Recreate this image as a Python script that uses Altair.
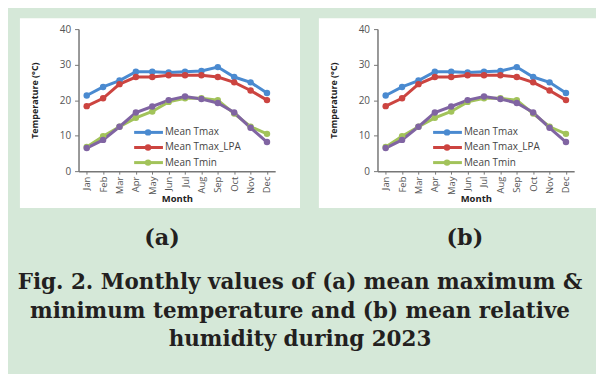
import altair as alt
import pandas as pd

months = ["Jan", "Feb", "Mar", "Apr", "May", "Jun", "Jul", "Aug", "Sep", "Oct", "Nov", "Dec"]
mean_tmax = [21.3, 23.7, 25.5, 28.0, 28.0, 27.8, 28.0, 28.2, 29.3, 26.5, 25.0, 22.0]
mean_tmax_lpa = [18.3, 20.5, 24.5, 26.5, 26.5, 27.0, 27.0, 27.0, 26.5, 25.0, 22.7, 20.0]
mean_tmin = [6.8, 9.8, 12.5, 15.0, 16.8, 19.5, 20.5, 20.5, 20.0, 16.2, 12.5, 10.5]
mean_tmin_lpa = [6.5, 8.8, 12.5, 16.5, 18.2, 20.0, 21.0, 20.3, 19.2, 16.5, 12.2, 8.2]

series_names = ["Mean Tmax", "Mean Tmax_LPA", "Mean Tmin", "Mean Tmin_LPA"]
series_colors = ["#4a8ad0", "#cc4440", "#a2c35a", "#8064a2"]
legend_names = ["Mean Tmax", "Mean Tmax_LPA", "Mean Tmin"]
y_ticks = [0, 10, 20, 30, 40]
panel_labels = ["(a)", "(b)"]
caption = ("Fig. 2. Monthly values of (a) mean maximum &\n"
           "minimum temperature and (b) mean relative\n"
           "humidity during 2023")

BG = "#d5e8d8"
W, H = 198, 143

rows = []
for name, vals in zip(series_names, [mean_tmax, mean_tmax_lpa, mean_tmin, mean_tmin_lpa]):
    for m, v in zip(months, vals):
        rows.append({"month": m, "series": name, "temp": v})
df = pd.DataFrame(rows)
one = pd.DataFrame({"k": [0]})

color_scale = alt.Scale(domain=series_names, range=series_colors)
x_enc = alt.X("month:N", sort=months, scale=alt.Scale(type="point", padding=0.5),
              axis=alt.Axis(title="Month", labelAngle=-90, labelFont="Open Sans", labelFontSize=9.5,
                            labelColor="#555555", titleFont="Open Sans", titleFontSize=9.5,
                            titleFontWeight="bold", titleColor="#222222", titleY=28,
                            titleBaseline="middle", domainColor="#777777", tickColor="#777777",
                            tickSize=3, labelPadding=2, domainWidth=1.5, zindex=1))
y_enc = alt.Y("temp:Q", scale=alt.Scale(domain=[0, 40], nice=False),
              axis=alt.Axis(title="Temperature (°C)", values=y_ticks, grid=False,
                            labelFont="Open Sans", labelFontSize=10, labelColor="#555555",
                            titleFont="Open Sans", titleFontSize=9, titleFontWeight="bold",
                            titleColor="#222222", titleX=-44, titleY=H / 2, titleAngle=-90,
                            titleAlign="center", titleBaseline="middle",
                            domainColor="#777777", tickColor="#777777", tickSize=4,
                            domainWidth=1.5, labelPadding=4, zindex=1))


def panel(idx, box_x1, box_x2, with_page_bg=False, with_caption=False):
    layers = []
    if with_page_bg:
        layers.append(alt.Chart(one).mark_rect(color=BG).encode(
            x=alt.value(-71), x2=alt.value(517), y=alt.value(-20), y2=alt.value(346)))
    layers.append(alt.Chart(one).mark_rect(color="white").encode(
        x=alt.value(box_x1), x2=alt.value(box_x2), y=alt.value(-11), y2=alt.value(180)))
    lines = alt.Chart(df).mark_line(strokeWidth=3).encode(
        x=x_enc, y=y_enc, color=alt.Color("series:N", scale=color_scale, legend=None))
    pts = alt.Chart(df).mark_point(filled=True, size=42, opacity=1).encode(
        x=x_enc, y=y_enc, color=alt.Color("series:N", scale=color_scale, legend=None))
    layers += [lines, pts]
    for i, name in enumerate(legend_names):
        ly = 104 + i * 15.2
        col = series_colors[series_names.index(name)]
        layers.append(alt.Chart(one).mark_rule(color=col, strokeWidth=3).encode(
            x=alt.value(56), x2=alt.value(85), y=alt.value(ly)))
        layers.append(alt.Chart(one).mark_point(filled=True, size=42, color=col, opacity=1).encode(
            x=alt.value(70), y=alt.value(ly)))
        layers.append(alt.Chart(one).mark_text(align="left", baseline="middle", font="Open Sans",
                                              fontSize=10, color="#444444").encode(
            x=alt.value(87), y=alt.value(ly), text=alt.value(name)))
    layers.append(alt.Chart(one).mark_text(align="center", baseline="middle", font="DejaVu Serif",
                                          fontWeight="bold", fontSize=22.5, color="#231f20").encode(
        x=alt.value(84 if idx == 0 else 88), y=alt.value(210), text=alt.value(panel_labels[idx])))
    if with_caption:
        layers.append(alt.Chart(one).mark_text(align="center", baseline="middle", font="DejaVu Serif",
                                              fontWeight="bold", fontSize=21.6, color="#231f20",
                                              lineBreak="\n", lineHeight=28.5).encode(
            x=alt.value(223), y=alt.value(256), text=alt.value(caption)))
    return alt.layer(*layers).properties(width=W, height=H)


left = panel(0, -59, 223, with_page_bg=True, with_caption=True)
right = panel(1, -59, 220)

chart = alt.hconcat(left, right, spacing=103, bounds="flush").properties(
    padding=0, background=BG
).configure_view(stroke=None)

chart.save("out.html", embed_options={"renderer": "svg", "actions": False})
